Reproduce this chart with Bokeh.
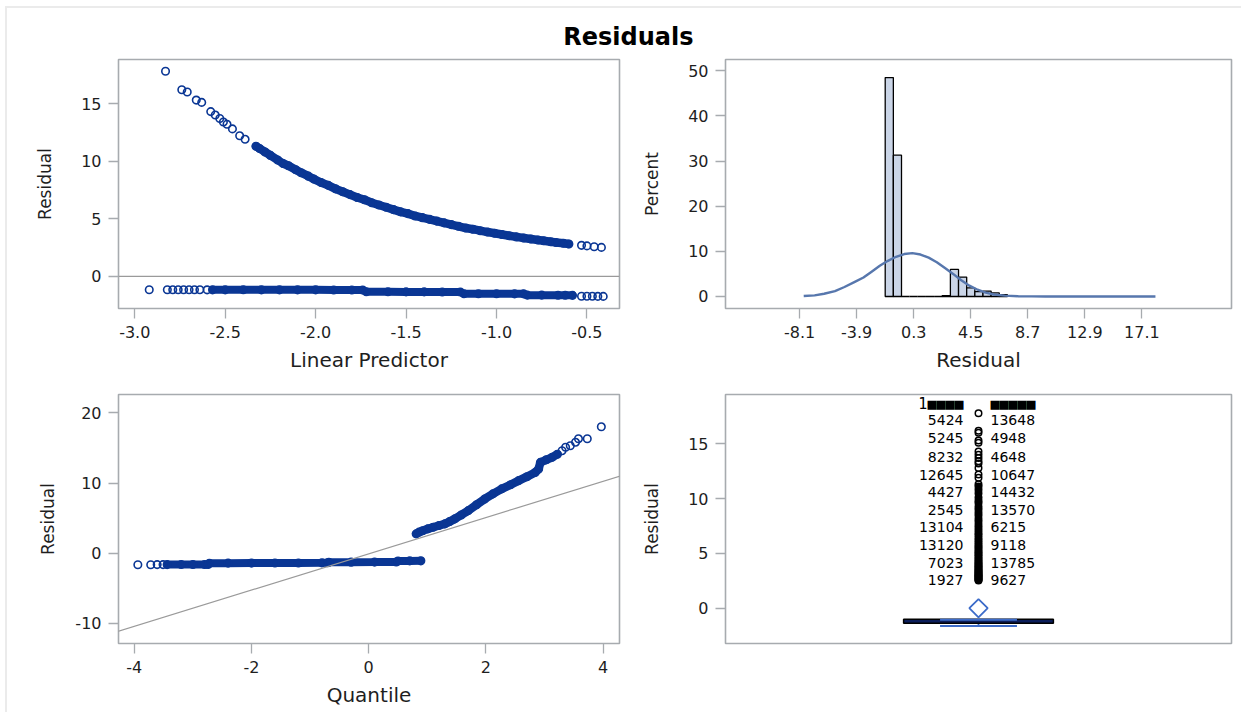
from bokeh.plotting import figure
from bokeh.layouts import column, row
from bokeh.models import Span, Label, FixedTicker, NumeralTickFormatter, Range1d, Slope
from bokeh.core.properties import value
from bokeh.embed import file_html
from bokeh.resources import INLINE

TITLE = "Residuals"

# ---------------- Panel 1: Residual vs Linear Predictor ----------------
lp_upper = [-2.83, -2.74, -2.71, -2.66, -2.63, -2.58, -2.555, -2.53, -2.51, -2.49, -2.46,
            -2.42, -2.39, -2.33, -2.31, -2.28, -2.25, -2.21, -2.18, -2.15, -2.11, -2.08,
            -2.04, -2.01, -1.97, -1.93, -1.89, -1.85, -1.81, -1.77, -1.73, -1.69, -1.65,
            -1.61, -1.57, -1.53, -1.49, -1.45, -1.41, -1.37, -1.33, -1.29, -1.25, -1.21,
            -1.17, -1.13, -1.09, -1.05, -1.01, -0.97, -0.93, -0.89, -0.85, -0.81, -0.77,
            -0.74, -0.70, -0.67, -0.63, -0.60, -0.53, -0.50, -0.46, -0.42]
res_upper = [17.8, 16.2, 16.0, 15.3, 15.1, 14.3, 14.0, 13.7, 13.4, 13.2, 12.8,
             12.2, 11.9, 11.3, 11.1, 10.8, 10.5, 10.1, 9.8, 9.6, 9.25, 9.0,
             8.7, 8.45, 8.15, 7.9, 7.6, 7.35, 7.1, 6.85, 6.65, 6.4, 6.2,
             6.0, 5.8, 5.6, 5.45, 5.25, 5.1, 4.95, 4.8, 4.65, 4.5, 4.35,
             4.2, 4.1, 3.97, 3.85, 3.75, 3.64, 3.53, 3.43, 3.34, 3.25, 3.16,
             3.1, 3.01, 2.95, 2.88, 2.82, 2.7, 2.65, 2.58, 2.52]
upper_dense_lp = (-2.33, -0.60)

lp_lower = [-2.92, -2.82, -2.79, -2.76, -2.73, -2.70, -2.67, -2.64, -2.60, -2.57, -2.50,
            -2.40, -2.30, -2.20, -2.10, -2.00, -1.90, -1.80, -1.74, -1.72, -1.60, -1.50,
            -1.40, -1.30, -1.20, -1.18, -1.10, -1.00, -0.90, -0.85, -0.83, -0.75, -0.66,
            -0.62, -0.58, -0.53, -0.50, -0.47, -0.44, -0.41]
res_lower = [-1.15, -1.15, -1.15, -1.15, -1.15, -1.15, -1.15, -1.15, -1.16, -1.16, -1.16,
             -1.16, -1.16, -1.16, -1.16, -1.16, -1.17, -1.17, -1.17, -1.33, -1.33, -1.34,
             -1.34, -1.35, -1.35, -1.50, -1.50, -1.50, -1.51, -1.51, -1.62, -1.62, -1.63,
             -1.63, -1.64, -1.72, -1.72, -1.72, -1.73, -1.73]
lower_dense_lp = (-2.57, -0.58)

p1_xticks = [-3.0, -2.5, -2.0, -1.5, -1.0, -0.5]
p1_yticks = [0, 5, 10, 15]

# ---------------- Panel 2: Histogram of residuals ----------------
hist_left = [-1.8, -1.2, -0.6, 0.0, 0.6, 1.2, 1.8, 2.4, 3.0, 3.6, 4.2, 4.8, 5.4, 6.0, 6.6]
hist_right = [-1.2, -0.6, 0.0, 0.6, 1.2, 1.8, 2.4, 3.0, 3.6, 4.2, 4.8, 5.4, 6.0, 6.6, 7.2]
hist_pct = [48.5, 31.3, 0.0, 0.0, 0.0, 0.0, 0.0, 0.2, 6.0, 4.3, 1.9, 1.1, 1.2, 0.8, 0.4]

normal_x = [-7.8, -7.0, -6.3, -5.5, -4.8, -4.0, -3.4, -2.8, -2.2, -1.6, -1.0, -0.4, 0.2,
            0.8, 1.4, 2.0, 2.6, 3.2, 3.8, 4.4, 5.0, 5.6, 6.2, 7.0, 8.0, 9.0, 10.0, 18.1]
normal_y = [0.1, 0.25, 0.6, 1.2, 2.1, 3.3, 4.2, 5.5, 6.8, 7.9, 8.8, 9.4, 9.6,
            9.3, 8.6, 7.6, 6.3, 5.0, 3.6, 2.4, 1.5, 0.85, 0.45, 0.2, 0.06, 0.02, 0.0, 0.0]

p2_xticks = [-8.1, -3.9, 0.3, 4.5, 8.7, 12.9, 17.1]
p2_yticks = [0, 10, 20, 30, 40, 50]

# ---------------- Panel 3: Q-Q plot ----------------
qq_lower_q = [-3.94, -3.72, -3.61, -3.51, -3.44, -3.2, -3.0, -2.8, -2.74, -2.72, -2.4, -2.0,
              -1.6, -1.2, -0.8, -0.70, -0.68, -0.3, 0.1, 0.47, 0.50, 0.7, 0.89]
qq_lower_r = [-1.63, -1.63, -1.62, -1.62, -1.62, -1.61, -1.61, -1.60, -1.60, -1.42, -1.41, -1.40,
              -1.39, -1.38, -1.37, -1.36, -1.28, -1.27, -1.26, -1.25, -1.10, -1.09, -1.08]
lower_dense_q = (-3.44, 0.89)

qq_upper_q = [0.81, 0.86, 0.92, 1.01, 1.1, 1.2, 1.30, 1.38, 1.47, 1.58, 1.70, 1.84, 1.98, 2.12,
              2.27, 2.42, 2.56, 2.70, 2.84, 2.90, 2.93, 3.03, 3.13, 3.22, 3.30, 3.36, 3.44,
              3.53, 3.58, 3.73, 3.97]
qq_upper_r = [2.76, 3.0, 3.2, 3.47, 3.7, 3.95, 4.18, 4.5, 4.89, 5.45, 6.07, 6.9, 7.73, 8.45,
              9.16, 9.75, 10.34, 10.9, 11.5, 12.0, 12.94, 13.3, 13.66, 14.1, 14.6, 15.1, 15.3,
              15.8, 16.3, 16.3, 18.0]
upper_dense_q = (0.81, 3.22)

qq_ref_slope = 2.58
qq_ref_intercept = -0.08

p3_xticks = [-4, -2, 0, 2, 4]
p3_yticks = [-10, 0, 10, 20]

# ---------------- Panel 4: Box plot ----------------
box_q1 = -1.37
box_q3 = -1.01
whisker_low = -1.62
whisker_high = -1.06
box_mean = 0.0
outlier_resid = res_upper
outlier_dense = (2.5, 11.2)

id_left = ["1\u25a0\u25a0\u25a0\u25a0", "5424", "5245", "8232", "12645", "4427", "2545",
           "13104", "13120", "7023", "1927"]
id_right = ["\u25a0\u25a0\u25a0\u25a0\u25a0", "13648", "4948", "4648", "10647", "14432", "13570",
            "6215", "9118", "13785", "9627"]
id_label_y = [18.65, 17.19, 15.55, 13.84, 12.2, 10.62, 8.98, 7.45, 5.81, 4.14, 2.59]

p4_yticks = [0, 5, 10, 15]

# ---------------- Styles ----------------
FONT = "DejaVu Sans"
MONO = "DejaVu Sans Mono"
BLUE = "#0a3694"
FRAME = "#a7abaf"
TXT = "#1e1e1e"


def style(p, ylabel_standoff=23):
    p.outline_line_color = FRAME
    p.outline_line_width = 1.6
    p.grid.visible = False
    p.background_fill_color = "white"
    p.border_fill_color = "white"
    for ax in p.xaxis:
        ax.axis_label_text_font_size = "20px"
        ax.axis_label_standoff = 7
    for ax in p.yaxis:
        ax.axis_label_text_font_size = "17px"
        ax.axis_label_standoff = ylabel_standoff
    for ax in p.axis:
        ax.axis_line_color = None
        ax.major_tick_line_color = FRAME
        ax.major_tick_line_width = 1.3
        ax.major_tick_out = 10
        ax.major_tick_in = 0
        ax.minor_tick_line_color = None
        ax.major_label_text_font = FONT
        ax.major_label_text_font_size = "16px"
        ax.major_label_text_color = TXT
        ax.major_label_standoff = 7
        ax.axis_label_text_font = FONT
        ax.axis_label_text_font_style = "normal"
        ax.axis_label_text_color = TXT


def subset(xs, ys, lo, hi):
    pairs = [(x, y) for x, y in zip(xs, ys) if lo <= x <= hi]
    return [a for a, _ in pairs], [b for _, b in pairs]


# Title
pt = figure(width=1234, height=48, toolbar_location=None, output_backend="svg",
            x_range=Range1d(0, 1), y_range=Range1d(0, 1), min_border=0,
            x_axis_location=None, y_axis_location=None)
pt.outline_line_color = None
pt.grid.visible = False
pt.add_layout(Label(x=0.5032, y=0.40, text=TITLE, text_align="center", text_baseline="middle",
                    text_font=FONT, text_font_style="bold", text_font_size="24px",
                    text_color="#000000"))

# Panel 1
p1 = figure(width=632, height=324, toolbar_location=None, output_backend="svg",
            x_range=Range1d(-3.09, -0.32), y_range=Range1d(-2.78, 18.82),
            min_border_left=111, min_border_right=20, min_border_top=3, min_border_bottom=72,
            x_axis_label="Linear Predictor", y_axis_label="Residual")
style(p1)
p1.xaxis.ticker = FixedTicker(ticks=p1_xticks)
p1.xaxis.formatter = NumeralTickFormatter(format="0.0")
p1.yaxis.ticker = FixedTicker(ticks=p1_yticks)
p1.add_layout(Span(location=0, dimension="width", line_color="#9a9a9a", line_width=1.2))
ux, uy = subset(lp_upper, res_upper, *upper_dense_lp)
p1.line(ux, uy, line_color=BLUE, line_width=8.5, line_cap="round")
lx, ly = subset(lp_lower, res_lower, *lower_dense_lp)
p1.line(lx, ly, line_color=BLUE, line_width=8, line_cap="round")
p1.scatter(lp_upper, res_upper, marker="circle", size=7.5, fill_color=None,
           line_color=BLUE, line_width=1.6)
p1.scatter(lp_lower, res_lower, marker="circle", size=7.5, fill_color=None,
           line_color=BLUE, line_width=1.6)

# Panel 2
p2 = figure(width=602, height=324, toolbar_location=None, output_backend="svg",
            x_range=Range1d(-13.56, 23.7), y_range=Range1d(-2.66, 52.5),
            min_border_left=85, min_border_right=10, min_border_top=3, min_border_bottom=72,
            x_axis_label="Residual", y_axis_label="Percent")
style(p2)
p2.xaxis.ticker = FixedTicker(ticks=p2_xticks)
p2.xaxis.formatter = NumeralTickFormatter(format="0.0")
p2.yaxis.ticker = FixedTicker(ticks=p2_yticks)
p2.quad(left=hist_left, right=hist_right, bottom=0, top=hist_pct,
        fill_color="#cad5e7", line_color="#000000", line_width=1.3)
p2.line(normal_x, normal_y, line_color="#5777ad", line_width=2.4)

# Panel 3
p3 = figure(width=632, height=332, toolbar_location=None, output_backend="svg",
            x_range=Range1d(-4.27, 4.28), y_range=Range1d(-12.85, 22.6),
            min_border_left=111, min_border_right=20, min_border_top=14, min_border_bottom=69,
            x_axis_label="Quantile", y_axis_label="Residual")
style(p3, ylabel_standoff=14)
p3.xaxis.ticker = FixedTicker(ticks=p3_xticks)
p3.xaxis.formatter = NumeralTickFormatter(format="0")
p3.yaxis.ticker = FixedTicker(ticks=p3_yticks)
p3.yaxis.formatter = NumeralTickFormatter(format="0")
p3.add_layout(Slope(gradient=qq_ref_slope, y_intercept=qq_ref_intercept,
                    line_color="#9a9a9a", line_width=1.2))
qx, qy = subset(qq_lower_q, qq_lower_r, *lower_dense_q)
p3.line(qx, qy, line_color=BLUE, line_width=8, line_cap="round")
qx2, qy2 = subset(qq_upper_q, qq_upper_r, *upper_dense_q)
p3.line(qx2, qy2, line_color=BLUE, line_width=8.5, line_cap="round")
p3.scatter(qq_lower_q, qq_lower_r, marker="circle", size=7.5, fill_color=None,
           line_color=BLUE, line_width=1.6)
p3.scatter(qq_upper_q, qq_upper_r, marker="circle", size=7.5, fill_color=None,
           line_color=BLUE, line_width=1.6)

# Panel 4
p4 = figure(width=602, height=332, toolbar_location=None, output_backend="svg",
            x_range=Range1d(-1, 1), y_range=Range1d(-3.22, 19.5),
            min_border_left=85, min_border_right=10, min_border_top=14, min_border_bottom=69,
            x_axis_location=None, y_axis_label="Residual")
style(p4)
p4.yaxis.ticker = FixedTicker(ticks=p4_yticks)
BOX_HALF = 0.296
CAP_HALF = 0.152
p4.segment(x0=[0], y0=[box_q1], x1=[0], y1=[whisker_low], line_color="#3d6cc9", line_width=1.8)
p4.quad(left=[-BOX_HALF], right=[BOX_HALF], bottom=[box_q1], top=[box_q3],
        fill_color="#0b1d5a", line_color="#000000", line_width=1.5)
p4.segment(x0=[-CAP_HALF, -CAP_HALF], y0=[whisker_low, whisker_high],
           x1=[CAP_HALF, CAP_HALF], y1=[whisker_low, whisker_high],
           line_color="#3d6cc9", line_width=2)
p4.scatter([0], [box_mean], marker="square", angle=0.7853981634, size=13,
           fill_color=None, line_color="#3d6cc9", line_width=1.8)
ox = [0.0] * len(outlier_resid)
dense = sorted(v for v in outlier_resid if outlier_dense[0] <= v <= outlier_dense[1])
p4.line([0.0] * len(dense), dense, line_color="#000000", line_width=7, line_cap="round")
p4.scatter(ox, outlier_resid, marker="circle", size=6.5, fill_color=None,
           line_color="#000000", line_width=1.5)
# overlapping (unreadable) top-row labels
p4.text(x=[0.0], y=id_label_y[:1], text=id_left[:1], x_offset=-15,
        text_align="right", text_baseline="middle", text_font=value(MONO),
        text_font_size="15px", text_color="#000000")
p4.text(x=[0.0], y=id_label_y[:1], text=id_right[:1], x_offset=12,
        text_align="left", text_baseline="middle", text_font=value(MONO),
        text_font_size="15px", text_color="#000000")
# readable labels
p4.text(x=[0.0] * (len(id_left) - 1), y=id_label_y[1:], text=id_left[1:], x_offset=-15,
        text_align="right", text_baseline="middle", text_font=value(FONT),
        text_font_size="14px", text_color="#000000")
p4.text(x=[0.0] * (len(id_right) - 1), y=id_label_y[1:], text=id_right[1:], x_offset=12,
        text_align="left", text_baseline="middle", text_font=value(FONT),
        text_font_size="14px", text_color="#000000")

layout = column(pt, row(p1, p2), row(p3, p4),
                styles={"border-top": "2px solid #ebebeb", "border-left": "2px solid #ebebeb",
                        "margin-left": "5px", "margin-top": "6px"})

open("out.html", "w").write(file_html(layout, INLINE, title=TITLE))
